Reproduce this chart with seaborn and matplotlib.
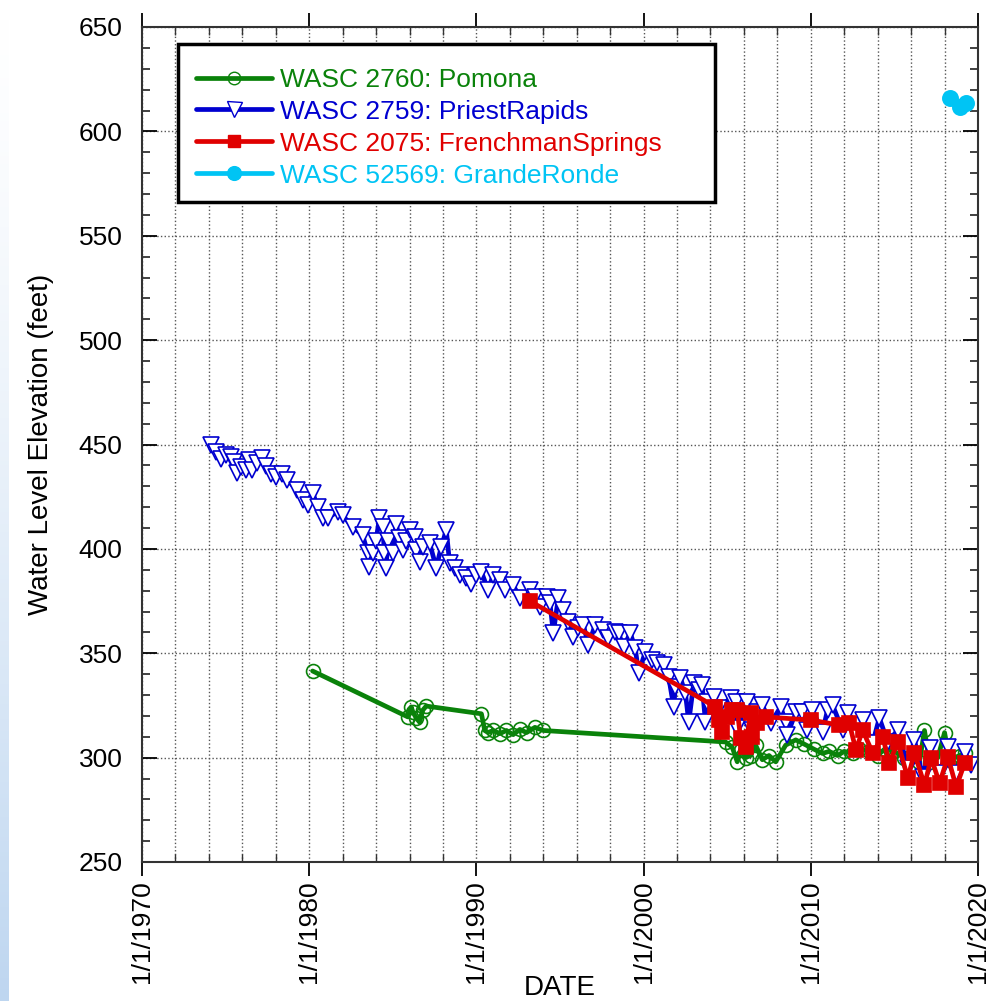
import numpy as np
import pandas as pd
import matplotlib
matplotlib.use('Agg')
import matplotlib.pyplot as plt
from matplotlib.ticker import MultipleLocator, FixedLocator
from matplotlib.lines import Line2D
from matplotlib.patches import Rectangle
import seaborn as sns

# decimal years and water level elevations (feet)
pomona_year = [1980.2, 1985.9, 1986.1, 1986.2, 1986.4, 1986.6, 1986.8, 1987.0,
               1990.3, 1990.5, 1990.7, 1991.0, 1991.4, 1991.8, 1992.2, 1992.6, 1993.0,
               1993.5, 1994.0, 2004.9, 2005.3, 2005.6, 2005.8, 2006.1, 2006.4, 2006.7,
               2007.1, 2007.5, 2007.9, 2008.5, 2009.1, 2009.6, 2010.2, 2010.7, 2011.1,
               2011.6, 2012.0, 2012.5, 2012.9, 2013.5, 2014.0, 2014.4, 2015.0, 2015.6,
               2016.1, 2016.5, 2016.8, 2017.1, 2017.6, 2018.0, 2018.3, 2018.9, 2019.2]
pomona_level = [341.5, 319.5, 324.3, 321.9, 319.0, 317.0, 322.8, 324.7,
                321.0, 313.0, 312.0, 313.0, 311.5, 313.0, 311.0, 313.5, 312.0,
                314.5, 313.0, 307.5, 305.0, 298.0, 303.7, 300.0, 301.0, 306.0,
                299.0, 301.0, 298.0, 306.0, 308.5, 306.5, 304.0, 302.0, 303.0,
                301.0, 303.0, 302.0, 304.0, 303.0, 301.0, 304.0, 303.0, 300.0,
                301.0, 298.0, 313.0, 298.0, 300.0, 312.0, 299.0, 301.0, 302.0]

priest_year = [1974.1, 1974.4, 1974.7, 1975.0, 1975.3, 1975.5, 1975.7, 1975.9, 1976.2,
               1976.4, 1976.6, 1976.9, 1977.2, 1977.4, 1977.7, 1978.0, 1978.4, 1978.7,
               1979.3, 1979.6, 1979.9, 1980.2, 1980.5, 1980.8, 1981.1, 1981.7, 1982.0,
               1982.6, 1983.2, 1983.5, 1983.6, 1983.8, 1984.0, 1984.2, 1984.4, 1984.5,
               1984.6, 1984.7, 1985.0, 1985.2, 1985.4, 1985.6, 1985.8, 1986.0, 1986.3,
               1986.4, 1986.6, 1986.8, 1987.2, 1987.6, 1987.9, 1988.2, 1988.4, 1988.7,
               1989.0, 1989.4, 1989.7, 1990.0, 1990.3, 1990.7, 1991.0, 1991.4, 1991.7,
               1992.2, 1992.6, 1993.2, 1993.5, 1993.8, 1994.2, 1994.4, 1994.6, 1994.9,
               1995.2, 1995.5, 1995.8, 1996.1, 1996.4, 1996.7, 1997.1, 1997.6, 1997.9,
               1998.3, 1998.5, 1998.8, 1999.2, 1999.5, 1999.7, 2000.1, 2000.5, 2000.8,
               2001.2, 2001.5, 2001.8, 2001.9, 2002.2, 2002.5, 2002.7, 2003.0, 2003.3,
               2003.5, 2003.7, 2003.8, 2004.2, 2004.5, 2005.2, 2005.5, 2005.6, 2006.0,
               2006.2, 2006.5, 2006.8, 2007.1, 2007.6, 2008.2, 2008.5, 2008.6, 2009.1,
               2009.5, 2009.8, 2010.1, 2010.7, 2011.0, 2011.3, 2011.9, 2012.2, 2012.8,
               2013.1, 2013.7, 2014.1, 2014.6, 2015.2, 2015.8, 2016.2, 2016.7, 2017.1,
               2017.7, 2018.2, 2018.7, 2019.2, 2019.6]
priest_level = [450.0, 446.6, 443.0, 445.0, 444.0, 441.7, 436.5, 439.0, 438.0,
                442.6, 437.8, 441.0, 443.5, 439.7, 436.0, 434.4, 436.0, 433.0,
                428.0, 423.4, 421.0, 427.0, 420.0, 415.0, 415.0, 417.7, 416.0,
                410.5, 406.6, 398.0, 391.3, 398.0, 404.0, 415.0, 410.5, 398.0,
                391.0, 404.0, 398.0, 412.0, 405.0, 399.5, 404.0, 409.0, 405.7,
                399.5, 393.7, 401.0, 402.8, 391.0, 401.0, 409.0, 393.0, 391.0,
                387.5, 386.0, 383.0, 387.5, 389.0, 380.3, 387.5, 385.0, 380.3,
                382.7, 376.5, 380.3, 377.0, 372.2, 377.0, 374.0, 359.7, 376.5,
                370.7, 365.0, 357.8, 362.0, 363.5, 354.0, 363.5, 361.0, 357.3,
                360.0, 359.7, 353.0, 359.7, 352.5, 340.5, 350.6, 346.8, 345.3,
                344.4, 338.6, 324.3, 333.8, 338.1, 331.0, 317.0, 335.8, 332.4,
                334.8, 317.0, 326.7, 329.0, 323.8, 328.6, 326.7, 314.2, 321.4,
                326.7, 313.2, 321.9, 325.2, 316.6, 324.3, 317.0, 310.8, 321.9,
                321.9, 313.2, 322.8, 312.3, 322.8, 325.2, 313.2, 321.4, 315.6,
                318.0, 307.0, 319.0, 307.5, 313.2, 295.0, 308.5, 290.7, 304.6,
                292.6, 305.1, 292.6, 302.7, 296.5]

frenchman_year = [1993.2, 2004.3, 2004.5, 2004.7, 2005.0, 2005.3, 2005.6, 2005.8, 2006.1,
                  2006.4, 2006.5, 2006.8, 2007.3, 2010.0, 2011.7, 2012.3, 2012.7, 2013.1,
                  2013.7, 2014.3, 2014.7, 2015.2, 2015.8, 2016.2, 2016.8, 2017.2, 2017.7,
                  2018.2, 2018.7, 2019.2]
frenchman_level = [375.0, 324.3, 318.0, 312.3, 319.5, 322.8, 322.8, 309.4, 305.1,
                   321.4, 309.9, 316.6, 319.5, 318.0, 315.6, 316.6, 303.6, 313.2,
                   302.2, 309.9, 297.4, 307.5, 290.2, 302.2, 286.9, 299.8, 287.8,
                   300.3, 285.9, 297.4]

grande_year = [2018.3, 2018.9, 2019.3]
grande_level = [616.0, 611.7, 613.6]

series_names = ['WASC 2760: Pomona', 'WASC 2759: PriestRapids',
                'WASC 2075: FrenchmanSprings', 'WASC 52569: GrandeRonde']
series_colors = ['#0a820a', '#0000d0', '#e00000', '#00c4f4']

x_ticks = [1970, 1980, 1990, 2000, 2010, 2020]
x_labels = ['1/1/%d' % y for y in x_ticks]

sns.set_style('white')
plt.rcParams['font.family'] = ['Liberation Sans', 'DejaVu Sans']
plt.rcParams['text.color'] = 'black'
plt.rcParams['axes.labelcolor'] = 'black'
plt.rcParams['xtick.color'] = 'black'
plt.rcParams['ytick.color'] = 'black'

fig = plt.figure(figsize=(9.9, 10.01), dpi=100)

# light blue gradient strip along the left edge of the page
strip = fig.add_axes([0, 0, 9 / 990, 1])
grad = np.linspace(0, 1, 256).reshape(-1, 1) ** 1.4
strip.imshow(grad, aspect='auto', cmap=matplotlib.colors.LinearSegmentedColormap.from_list(
    'edge', ['#ffffff', '#bed6f0']), origin='upper', extent=[0, 1, 0, 1])
strip.axis('off')

ax = fig.add_axes([142 / 990, 1 - 862 / 1001, 836 / 990, 835 / 1001])

data = [
    (pomona_year, pomona_level, 'o', 10, 'none'),
    (priest_year, priest_level, 'v', 12, 'white'),
    (frenchman_year, frenchman_level, 's', 10, None),
    (grande_year, grande_level, 'o', 11, None),
]
handles = []
for (xs, ys, mk, ms, mfc), name, col in zip(data, series_names, series_colors):
    kw = dict(markerfacecolor=mfc if mfc is not None else col, markeredgecolor=col,
              markeredgewidth=1.2, markersize=ms)
    sns.lineplot(x=xs, y=ys, ax=ax, color=col, marker=mk, linewidth=3.4,
                 estimator=None, sort=False, **kw)
    handles.append(Line2D([], [], color=col, marker=mk, linewidth=3.4,
                          markerfacecolor=kw['markerfacecolor'], markeredgecolor=col,
                          markersize=ms * 0.9))

ax.set_xlim(1970, 2020)
ax.set_ylim(250, 650)
ax.xaxis.set_major_locator(FixedLocator(x_ticks))
ax.xaxis.set_minor_locator(MultipleLocator(2))
ax.yaxis.set_major_locator(MultipleLocator(50))
ax.yaxis.set_minor_locator(MultipleLocator(10))
ax.set_xticklabels(x_labels, rotation=90, fontsize=19)
ax.tick_params(axis='y', labelsize=19)

ax.grid(True, which='major', axis='y', color='#555555', linestyle=':', linewidth=1)
ax.grid(True, which='both', axis='x', color='#555555', linestyle=':', linewidth=1)
ax.tick_params(axis='x', which='major', direction='out', length=10, width=1.3,
               top=True, bottom=True, pad=3, colors='black')
ax.tick_params(axis='x', which='minor', direction='in', length=6, width=1,
               top=True, bottom=True, colors='#333333')
ax.tick_params(axis='y', which='major', direction='in', length=11, width=1.3,
               left=True, right=True, pad=14, colors='black')
ax.tick_params(axis='y', which='minor', direction='in', length=6, width=1.3,
               left=True, right=True, colors='#333333')
for sp in ax.spines.values():
    sp.set_color('#333333')
    sp.set_linewidth(1.5)

ax.set_xlabel('DATE', fontsize=20, color='black')
ax.xaxis.set_label_coords(0.5, -0.151)
ax.xaxis.label.set_verticalalignment('center')
ax.set_ylabel('Water Level Elevation (feet)', fontsize=20, labelpad=18, color='black')

# legend box with a fixed size, as in the original
ax.add_patch(Rectangle((36 / 836, 1 - 175 / 835), 537 / 836, 158 / 835,
                       transform=ax.transAxes, facecolor='white', edgecolor='black',
                       linewidth=2.5, zorder=4.5, clip_on=False))
leg = ax.legend(handles, series_names, loc='upper left',
                bbox_to_anchor=(30 / 836, 1 - 17 / 835), fontsize=19,
                frameon=False, handlelength=2.9,
                handletextpad=0.3, borderpad=0.9, labelspacing=0.3,
                borderaxespad=0)
leg.set_zorder(5)
for txt, col in zip(leg.get_texts(), series_colors):
    txt.set_color(col)

fig.savefig('out.png', dpi=100)
